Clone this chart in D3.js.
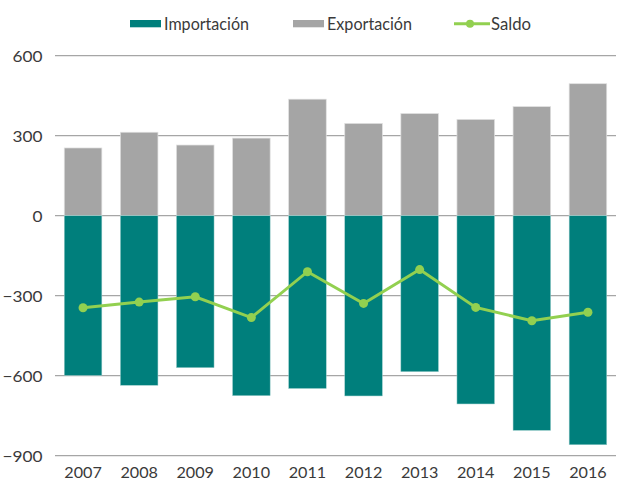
<!DOCTYPE html>
<html><head><meta charset="utf-8">
<script src="https://cdn.jsdelivr.net/npm/d3@7/dist/d3.min.js"></script>
<style>body{margin:0;background:#fff;} text{font-family:Lato,"Open Sans",sans-serif;}</style>
</head><body><svg id="c" width="617" height="480"></svg>
<script>
const years = ["2007","2008","2009","2010","2011","2012","2013","2014","2015","2016"];
const importacion = [-599,-636,-570,-675,-648,-676,-585,-706,-805,-859];
const exportacion = [254,313,265,291,437,346,383,361,409,495];
const saldo = [-345,-324,-304,-382,-210,-329,-202,-344,-394,-362];
const yTicks = [600,300,0,-300,-600,-900];

const svg = d3.select("#c");
const x = d3.scaleBand().domain(years).range([55,616]).paddingInner(0.33).paddingOuter(0.165);
const y = d3.scaleLinear().domain([-900,600]).range([455.7,55.7]);
const teal="#007F7C", gray="#A5A5A5", green="#92D050", txt="#3a3a3a";

// gridlines
svg.append("g").selectAll("line").data(yTicks).join("line")
  .attr("x1",55).attr("x2",616).attr("y1",d=>y(d)).attr("y2",d=>y(d))
  .attr("stroke","#a6a6a6").attr("stroke-width",1.3);

const yAxis = d3.axisLeft(y).tickValues(yTicks).tickSize(0).tickPadding(0);
const gy = svg.append("g").attr("transform","translate(42.5,0)").call(yAxis);
gy.select(".domain").remove();
gy.selectAll("text").attr("font-size",15.5).attr("fill",txt).attr("dy","0.36em")
  .attr("textLength",function(){return this.textContent.length*10;}).attr("lengthAdjust","spacingAndGlyphs");

const xAxis = d3.axisBottom(x).tickSize(0).tickPadding(0);
const gx = svg.append("g").attr("transform","translate(0,467)").call(xAxis);
gx.select(".domain").remove();
gx.selectAll("text").attr("font-size",15.5).attr("fill",txt).attr("dy","0.71em")
  .attr("textLength",37.5).attr("lengthAdjust","spacingAndGlyphs");

// bars
svg.append("g").selectAll("rect").data(years).join("rect")
  .attr("x",d=>x(d)).attr("width",x.bandwidth())
  .attr("y",(d,i)=>y(exportacion[i])).attr("height",(d,i)=>y(0)-y(exportacion[i]))
  .attr("fill",gray).attr("stroke","#e0e0e0").attr("stroke-width",0.7);
svg.append("g").selectAll("rect").data(years).join("rect")
  .attr("x",d=>x(d)).attr("width",x.bandwidth())
  .attr("y",y(0)).attr("height",(d,i)=>y(importacion[i])-y(0))
  .attr("fill",teal).attr("stroke","#9fcfcd").attr("stroke-width",0.5);

// line
const cx = d=>x(d)+x.bandwidth()/2;
svg.append("path").datum(years)
  .attr("d",d3.line().x(cx).y((d,i)=>y(saldo[i])))
  .attr("fill","none").attr("stroke",green).attr("stroke-width",3);
svg.append("g").selectAll("circle").data(years).join("circle")
  .attr("cx",cx).attr("cy",(d,i)=>y(saldo[i])).attr("r",4.5).attr("fill",green);

// legend
const lg = svg.append("g");
const lt = (xx,w,s)=>lg.append("text").attr("x",xx).attr("y",30).attr("font-size",17).attr("fill",txt)
  .attr("textLength",w).attr("lengthAdjust","spacingAndGlyphs").text(s);
lg.append("rect").attr("x",130).attr("y",20).attr("width",31).attr("height",7.3).attr("fill",teal);
lt(164,85,"Importación");
lg.append("rect").attr("x",293).attr("y",20).attr("width",31).attr("height",7.3).attr("fill",gray);
lt(327,85,"Exportación");
lg.append("line").attr("x1",454).attr("x2",490).attr("y1",23.7).attr("y2",23.7).attr("stroke",green).attr("stroke-width",3);
lg.append("circle").attr("cx",470).attr("cy",23.7).attr("r",4).attr("fill",green);
lt(491,40,"Saldo");
</script></body></html>
